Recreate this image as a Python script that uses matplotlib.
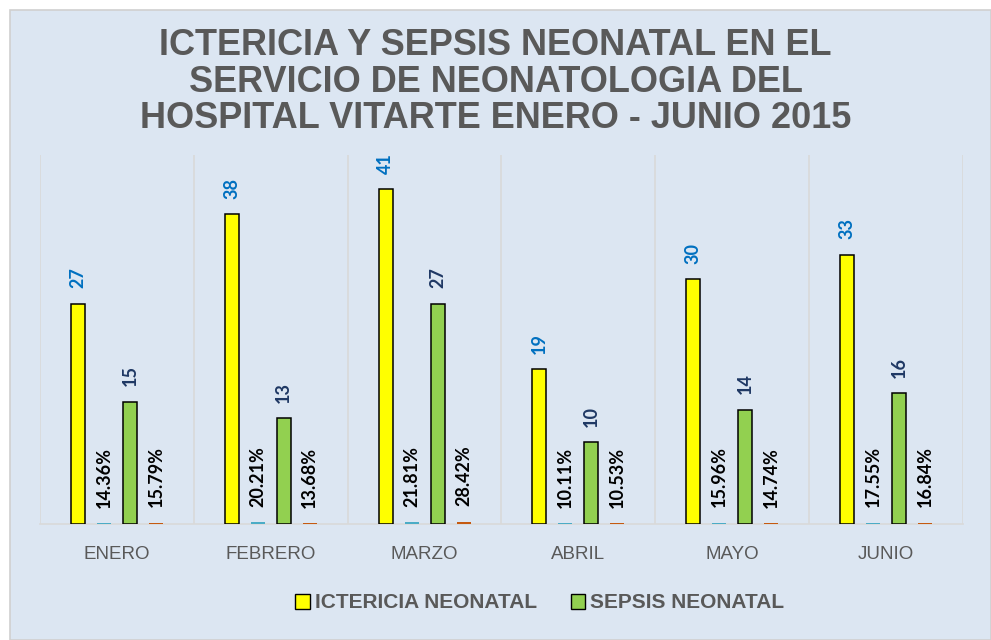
import matplotlib
matplotlib.use("Agg")
import matplotlib.pyplot as plt
from matplotlib.patches import Rectangle, Patch
import numpy as np

months = ["ENERO", "FEBRERO", "MARZO", "ABRIL", "MAYO", "JUNIO"]
ictericia = [27, 38, 41, 19, 30, 33]
ictericia_pct = [14.36, 20.21, 21.81, 10.11, 15.96, 17.55]
sepsis = [15, 13, 27, 10, 14, 16]
sepsis_pct = [15.79, 13.68, 28.42, 10.53, 14.74, 16.84]

title = "ICTERICIA Y SEPSIS NEONATAL EN EL\nSERVICIO DE NEONATOLOGIA DEL\nHOSPITAL VITARTE ENERO - JUNIO 2015"

W, H = 991, 640
fig = plt.figure(figsize=(W / 100, H / 100), dpi=100)
fig.patch.set_facecolor("white")
bg = Rectangle((10 / W, 0), 1 - 10 / W, 1 - 10 / H, transform=fig.transFigure,
               facecolor="#dce6f2", edgecolor="#d0d0d0", linewidth=1.2, zorder=-5)
fig.patches.append(bg)

ax = fig.add_axes([40 / W, 116 / H, 923 / W, 369 / H])
ax.set_zorder(2)
ax.set_facecolor("none")

x = np.arange(len(months))
step = 0.169
bw = 0.091
c_ict, c_ictp, c_sep, c_sepp = "#ffff00", "#4bacc6", "#92d050", "#c55a11"

ax.bar(x - 1.5 * step, ictericia, bw, color=c_ict, edgecolor="black", linewidth=1.1, zorder=3)
ax.bar(x - 0.5 * step, np.array(ictericia_pct) / 100, bw, color=c_ictp, linewidth=0, zorder=3)
ax.bar(x + 0.5 * step, sepsis, bw, color=c_sep, edgecolor="black", linewidth=1.1, zorder=3)
ax.bar(x + 1.5 * step, np.array(sepsis_pct) / 100, bw, color=c_sepp, linewidth=0, zorder=3)

lab_font = dict(family=["Lato", "DejaVu Sans"], fontweight="bold", fontsize=13)
off = 11
for i in range(len(months)):
    ax.annotate(str(ictericia[i]), (x[i] - 1.5 * step, ictericia[i]), xytext=(0, off),
                textcoords="offset points", rotation=90, ha="center", va="bottom",
                color="#0070c0", **lab_font)
    ax.annotate(str(sepsis[i]), (x[i] + 0.5 * step, sepsis[i]), xytext=(0, off),
                textcoords="offset points", rotation=90, ha="center", va="bottom",
                color="#1f3864", **lab_font)
    ax.annotate(f"{ictericia_pct[i]:.2f}%", (x[i] - 0.5 * step, ictericia_pct[i] / 100), xytext=(0, off),
                textcoords="offset points", rotation=90, ha="center", va="bottom",
                color="black", **lab_font)
    ax.annotate(f"{sepsis_pct[i]:.2f}%", (x[i] + 1.5 * step, sepsis_pct[i] / 100), xytext=(0, off),
                textcoords="offset points", rotation=90, ha="center", va="bottom",
                color="black", **lab_font)

for b in np.arange(-0.5, len(months), 1.0):
    ax.axvline(b, color="#d9d9d9", linewidth=1.2, zorder=1)

ax.set_xlim(-0.5, len(months) - 0.5)
ax.set_ylim(0, 45.2)
ax.set_yticks([])
ax.set_xticks(x)
ax.set_xticklabels(months, fontsize=13.5, color="#595959", family=["Liberation Sans", "DejaVu Sans"])
ax.tick_params(axis="x", length=0, pad=16)
for s in ["top", "left", "right"]:
    ax.spines[s].set_visible(False)
ax.spines["bottom"].set_color("#d9d9d9")
ax.spines["bottom"].set_linewidth(1.2)

fig.text(0.5, 1 - 82 / H, title, ha="center", va="center", fontsize=26, fontweight="bold",
         color="#595959", linespacing=1.05, family=["Liberation Sans", "DejaVu Sans"])

handles = [Patch(facecolor=c_ict, edgecolor="black", label="ICTERICIA NEONATAL"),
           Patch(facecolor=c_sep, edgecolor="black", label="SEPSIS NEONATAL")]
fig.legend(handles=handles, loc="center", bbox_to_anchor=(540 / W, 1 - 603 / H), ncol=2,
           frameon=False, prop=dict(family=["Liberation Sans", "DejaVu Sans"], weight="bold", size=15),
           labelcolor="#595959", handlelength=0.7, handleheight=0.7, columnspacing=1.6,
           handletextpad=0.25)

fig.savefig("out.png", dpi=100, facecolor=fig.get_facecolor())
